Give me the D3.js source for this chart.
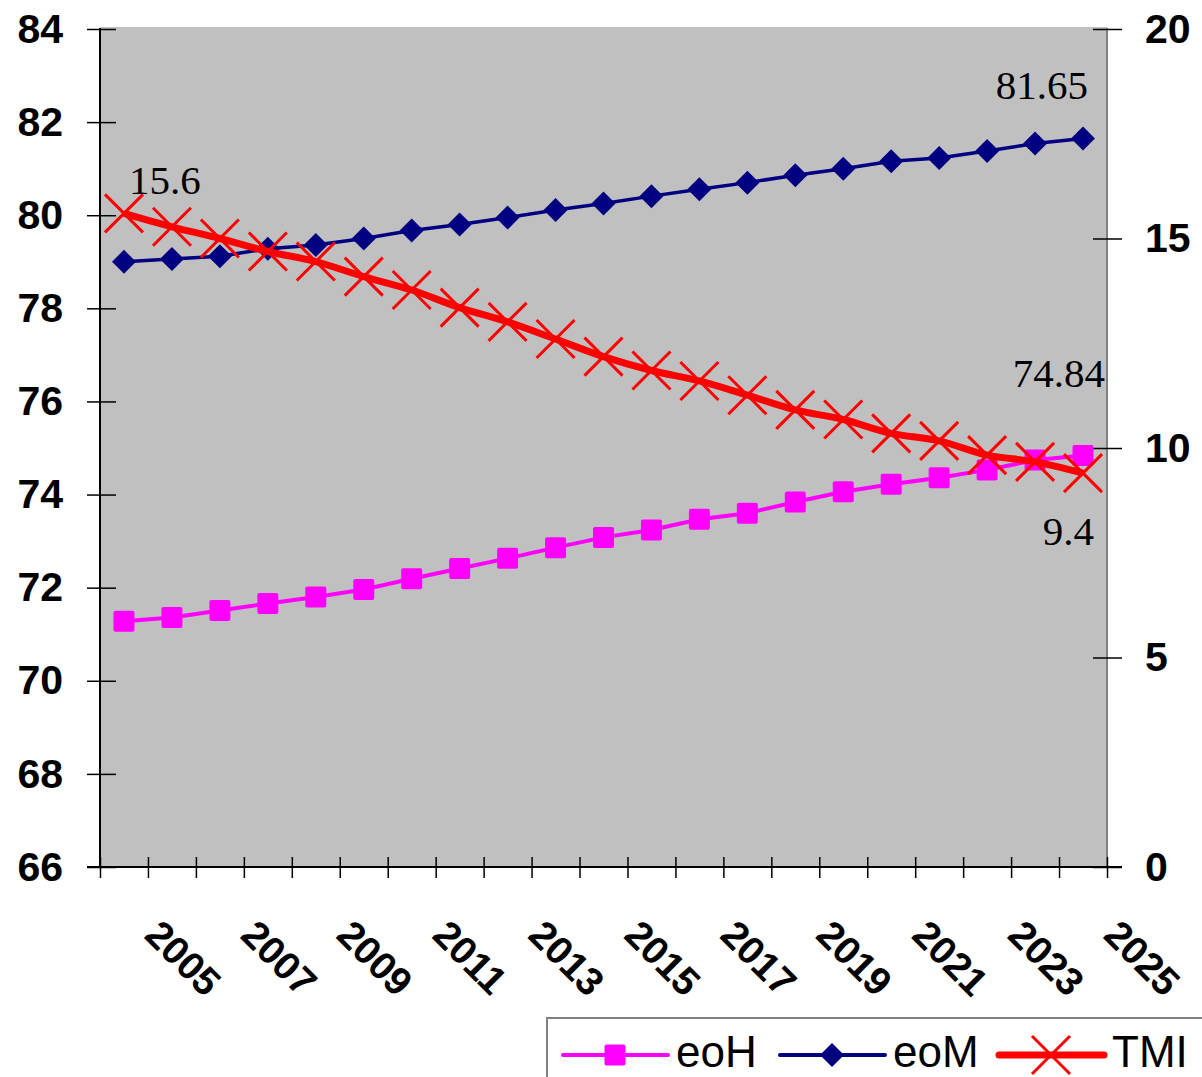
<!DOCTYPE html>
<html lang="en">
<head>
<meta charset="UTF-8">
<title>eoH eoM TMI</title>
<script src="https://d3js.org/d3.v7.min.js"></script>
<style>
  body { margin: 0; background: #fff; }
</style>
</head>
<body>
<svg width="1202" height="1077"></svg>
<script>
// data
var years = ["2005","2006","2007","2008","2009","2010","2011","2012","2013","2014","2015",
             "2016","2017","2018","2019","2020","2021","2022","2023","2024","2025"];
var eoH = [71.28, 71.36, 71.51, 71.66, 71.80, 71.96, 72.19, 72.41, 72.63, 72.86, 73.08,
           73.24, 73.47, 73.60, 73.84, 74.06, 74.22, 74.36, 74.53, 74.74, 74.84];
var eoM = [79.00, 79.06, 79.12, 79.28, 79.36, 79.50, 79.67, 79.80, 79.95, 80.11, 80.25,
           80.41, 80.56, 80.70, 80.86, 81.00, 81.16, 81.23, 81.38, 81.54, 81.65];
var TMI = [15.6, 15.28, 15.0, 14.69, 14.45, 14.09, 13.77, 13.35, 13.01, 12.60, 12.18,
           11.85, 11.60, 11.26, 10.91, 10.68, 10.35, 10.17, 9.83, 9.67, 9.4];
var leftTicks = [66, 68, 70, 72, 74, 76, 78, 80, 82, 84];
var rightTicks = [0, 5, 10, 15, 20];
var xLabels = ["2005","2007","2009","2011","2013","2015","2017","2019","2021","2023","2025"];

var m = {left: 100, top: 29}, W = 1007, H = 838;
var svg = d3.select("svg");
var g = svg.append("g").attr("transform", "translate(" + m.left + "," + m.top + ")");

var x = d3.scaleBand().domain(years).range([0, W]);
var cx = d => x(d) + x.bandwidth() / 2;
var yL = d3.scaleLinear().domain([66, 84]).range([H, 0]);
var yR = d3.scaleLinear().domain([0, 20]).range([H, 0]);

// plot area
g.append("rect").attr("x", 0).attr("y", -2).attr("width", W).attr("height", H + 2).attr("fill", "#c0c0c0");

// left axis
var la = g.append("g").call(d3.axisLeft(yL).tickValues(leftTicks).tickSize(13).tickPadding(24));
la.select(".domain").attr("stroke", "#000").attr("stroke-width", 2).attr("d", "M0," + (-1) + "V" + H);
la.selectAll(".tick line").attr("x1", 16).attr("stroke-width", 1.5);
la.selectAll("text").style("font", "bold 41px 'Liberation Sans', Arial, sans-serif").attr("fill", "#000");

// right axis
var ra = g.append("g").attr("transform", "translate(" + W + ",0)")
  .call(d3.axisRight(yR).tickValues(rightTicks).tickSize(15).tickPadding(23));
ra.select(".domain").attr("stroke", "#808080").attr("stroke-width", 2).attr("d", "M0," + (-1) + "V" + H);
ra.selectAll(".tick line").attr("x1", -14).attr("stroke-width", 1.5);
ra.selectAll("text").style("font", "bold 41px 'Liberation Sans', Arial, sans-serif").attr("fill", "#000");

// bottom axis: ticks on the band edges
var edge = d3.scaleLinear().domain([0, years.length]).range([0, W]);
var ba = g.append("g").attr("transform", "translate(0," + H + ")")
  .call(d3.axisBottom(edge).tickValues(d3.range(years.length + 1)).tickSize(11).tickFormat(""));
ba.select(".domain").attr("stroke", "#000").attr("stroke-width", 2).attr("d", "M-13,0H" + (W + 15));
ba.selectAll(".tick line").attr("y1", -10).attr("stroke-width", 1.5);

g.append("g").selectAll("text").data(xLabels).enter().append("text")
  .attr("transform", d => "translate(" + (cx(d) + 19) + "," + (H + 70) + ") rotate(45)")
  .attr("text-anchor", "start")
  .style("font", "bold 39px 'Liberation Sans', Arial, sans-serif")
  .text(d => d);

// eoH
var lineL = d3.line().x((d, i) => cx(years[i])).y(d => yL(d));
g.append("path").datum(eoH).attr("d", lineL).attr("fill", "none").attr("stroke", "#ff00ff").attr("stroke-width", 4);
g.append("g").selectAll("rect").data(eoH).enter().append("rect")
  .attr("x", (d, i) => cx(years[i]) - 10.5).attr("y", d => yL(d) - 10.5)
  .attr("width", 21).attr("height", 21).attr("rx", 2).attr("fill", "#ff00ff");

// eoM
g.append("path").datum(eoM).attr("d", lineL).attr("fill", "none").attr("stroke", "#000080").attr("stroke-width", 3.5);
g.append("g").selectAll("path").data(eoM).enter().append("path")
  .attr("transform", (d, i) => "translate(" + cx(years[i]) + "," + yL(d) + ")")
  .attr("d", "M0,-12L12,0L0,12L-12,0Z").attr("fill", "#000080");

// TMI (right axis, smoothed)
var lineR = d3.line().x((d, i) => cx(years[i])).y(d => yR(d)).curve(d3.curveCatmullRom);
g.append("path").datum(TMI).attr("d", lineR).attr("fill", "none").attr("stroke", "#ff0000").attr("stroke-width", 7);
g.append("g").selectAll("path").data(TMI).enter().append("path")
  .attr("transform", (d, i) => "translate(" + cx(years[i]) + "," + yR(d) + ")")
  .attr("d", "M-19,-19L19,19M-19,19L19,-19").attr("stroke", "#ff0000").attr("stroke-width", 3).attr("fill", "none");

// data labels
var last = years.length - 1;
var labFont = "41px 'Liberation Serif', 'Times New Roman', serif";
function lab(t, px, py, anchor) {
  g.append("text").attr("x", px).attr("y", py).attr("text-anchor", anchor).style("font", labFont).text(t);
}
lab(TMI[0], cx(years[0]) + 5, yR(TMI[0]) - 19, "start");
lab(eoM[last], cx(years[last]) + 5, yL(eoM[last]) - 39, "end");
lab(eoH[last], cx(years[last]) + 22, yL(eoH[last]) - 68, "end");
lab(TMI[last], cx(years[last]) + 11, yR(TMI[last]) + 72, "end");

// legend
var lg = svg.append("g");
lg.append("rect").attr("x", 547).attr("y", 1018).attr("width", 700).attr("height", 100)
  .attr("fill", "#fff").attr("stroke", "#808080").attr("stroke-width", 2);
var legItems = [
  {name: "eoH", color: "#ff00ff", x0: 563, w: 4},
  {name: "eoM", color: "#000080", x0: 780, w: 4},
  {name: "TMI", color: "#ff0000", x0: 999, w: 7}
];
var ly = 1055;
legItems.forEach(function(it) {
  lg.append("line").attr("x1", it.x0).attr("x2", it.x0 + 105).attr("y1", ly).attr("y2", ly)
    .attr("stroke", it.color).attr("stroke-width", it.w).attr("stroke-linecap", "round");
  var mx = it.x0 + 52;
  if (it.name == "eoH") {
    lg.append("rect").attr("x", mx - 10.5).attr("y", ly - 10.5).attr("width", 21).attr("height", 21).attr("rx", 2).attr("fill", it.color);
  } else if (it.name == "eoM") {
    lg.append("path").attr("transform", "translate(" + mx + "," + ly + ")").attr("d", "M0,-12L12,0L0,12L-12,0Z").attr("fill", it.color);
  } else {
    lg.append("path").attr("transform", "translate(" + mx + "," + ly + ")")
      .attr("d", "M-19,-19L19,19M-19,19L19,-19").attr("stroke", it.color).attr("stroke-width", 3);
  }
  lg.append("text").attr("x", it.x0 + 113).attr("y", ly + 12)
    .style("font", "44px 'Liberation Sans', Arial, sans-serif").text(it.name);
});
</script>
</body>
</html>
